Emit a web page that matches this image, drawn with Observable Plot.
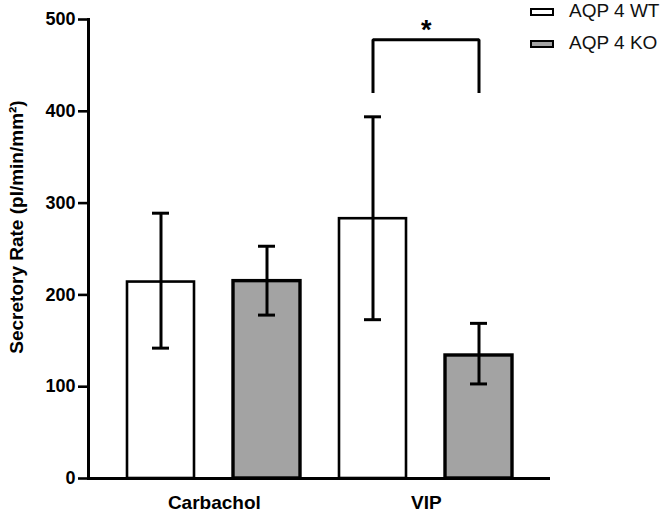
<!DOCTYPE html>
<html>
<head>
<meta charset="utf-8">
<script src="https://cdn.jsdelivr.net/npm/d3@7"></script>
<script src="https://cdn.jsdelivr.net/npm/@observablehq/plot@0.6"></script>
<style>
  html, body { margin: 0; padding: 0; background: #fff; }
  #wrap { position: relative; width: 666px; height: 513px; font-family: "Liberation Sans", Arial, sans-serif; }
  #wrap svg { position: absolute; left: 0; top: 0; }
  svg g[aria-label="y-axis tick"] path, svg .tick line { stroke-width: 2.6px; stroke: #000; }
  svg g[aria-label="y-axis tick label"] text, svg .tick text { font-size: 18px; font-weight: bold; }
  .leg-item { position: absolute; left: 530px; height: 20px; }
  .leg-box { position: absolute; left: 0; width: 24px; height: 8px; box-sizing: border-box; border: 2.6px solid #000; }
  .leg-text { position: absolute; left: 39px; white-space: nowrap; font-size: 19px; line-height: 19px; color: #111; }
</style>
</head>
<body>
<div id="wrap"></div>
<script>
// ---- data ----
const categories = ["Carbachol", "VIP"];
const series = ["AQP 4 WT", "AQP 4 KO"];
const meanWT = [214, 283];
const meanKO = [215, 134];
const lowWT = [142, 173];
const highWT = [289, 394];
const lowKO = [178, 103];
const highKO = [253, 169];
const yTicks = [0, 100, 200, 300, 400, 500];
const yLabel = "Secretory Rate (pl/min/mm²)";
const sigGroup = "VIP";
const sigLabel = "*";
const sigBase = 420;
const sigTop = 478;
const seriesFill = ["#ffffff", "#a3a3a3"];

// ---- build table ----
const key = (c, s) => c + " · " + s;
const rows = categories.flatMap((c, i) => [
  {key: key(c, series[0]), cat: c, series: series[0], mean: meanWT[i], lo: lowWT[i], hi: highWT[i]},
  {key: key(c, series[1]), cat: c, series: series[1], mean: meanKO[i], lo: lowKO[i], hi: highKO[i]}
]);
const keys = rows.map(d => d.key);

const W = 666, H = 513;
const margin = {left: 88, right: 116, top: 19, bottom: 35};
const xOpts = {type: "band", domain: keys, paddingInner: 0.372, paddingOuter: 0.351};
const xs = Plot.scale({x: {...xOpts, range: [margin.left, W - margin.right]}});
const halfStep = (xs.apply(keys[1]) - xs.apply(keys[0])) / 2;
const capInset = (xs.bandwidth - 17) / 2;

const bracket = [
  {x: key(sigGroup, series[0]), y: sigBase},
  {x: key(sigGroup, series[0]), y: sigTop},
  {x: key(sigGroup, series[1]), y: sigTop},
  {x: key(sigGroup, series[1]), y: sigBase}
];

const chart = Plot.plot({
  width: W,
  height: H,
  marginLeft: margin.left,
  marginRight: margin.right,
  marginTop: margin.top,
  marginBottom: margin.bottom,
  style: {fontFamily: "Liberation Sans, Arial, sans-serif", fontSize: "18px", fontWeight: "bold", color: "#000", background: "transparent", overflow: "visible"},
  x: {...xOpts, axis: null},
  y: {domain: [0, 500], ticks: yTicks, tickSize: 10, tickPadding: 3, label: null, tickFormat: d => String(d)},
  marks: [
    Plot.barY(rows.filter(d => d.series === series[0]), {x: "key", y: "mean", fill: seriesFill[0], stroke: "#000", strokeWidth: 2.6}),
    Plot.barY(rows.filter(d => d.series === series[1]), {x: "key", y: "mean", fill: seriesFill[1], stroke: "#000", strokeWidth: 3.4}),
    Plot.ruleX(rows, {x: "key", y1: "lo", y2: "hi", stroke: "#000", strokeWidth: 3}),
    Plot.tickY(rows, {x: "key", y: "hi", insetLeft: capInset, insetRight: capInset, stroke: "#000", strokeWidth: 3}),
    Plot.tickY(rows, {x: "key", y: "lo", insetLeft: capInset, insetRight: capInset, stroke: "#000", strokeWidth: 3}),
    Plot.ruleY([0], {stroke: "#000", strokeWidth: 3}),
    Plot.frame({anchor: "left", stroke: "#000", strokeWidth: 3}),
    Plot.line(bracket, {x: "x", y: "y", stroke: "#000", strokeWidth: 3, strokeLinejoin: "miter", strokeLinecap: "butt"}),
    Plot.text([sigLabel], {x: () => key(sigGroup, series[0]), y: () => sigTop, dx: halfStep, dy: -1, lineAnchor: "bottom", fontSize: 27, fontWeight: "bold", fill: "#000"}),
    Plot.text(categories, {x: c => key(c, series[0]), y: () => 0, dx: halfStep, dy: 17, lineAnchor: "top", fontSize: 19, fontWeight: "bold", fill: "#000", text: d => d}),
    Plot.text([yLabel], {frameAnchor: "left", rotate: -90, dx: -66, dy: -22, lineAnchor: "bottom", textAnchor: "middle", fontSize: 19, fontWeight: "bold", fill: "#000"})
  ]
});

const wrap = document.getElementById("wrap");
wrap.appendChild(chart);

// ---- legend (top right) ----
const legTops = [1, 33];
series.forEach((s, i) => {
  const item = document.createElement("div");
  item.className = "leg-item";
  item.style.top = legTops[i] + "px";
  const box = document.createElement("div");
  box.className = "leg-box";
  box.style.top = "7px";
  box.style.background = seriesFill[i];
  const txt = document.createElement("div");
  txt.className = "leg-text";
  txt.style.top = "0px";
  txt.textContent = s;
  item.appendChild(box);
  item.appendChild(txt);
  wrap.appendChild(item);
});
</script>
</body>
</html>
